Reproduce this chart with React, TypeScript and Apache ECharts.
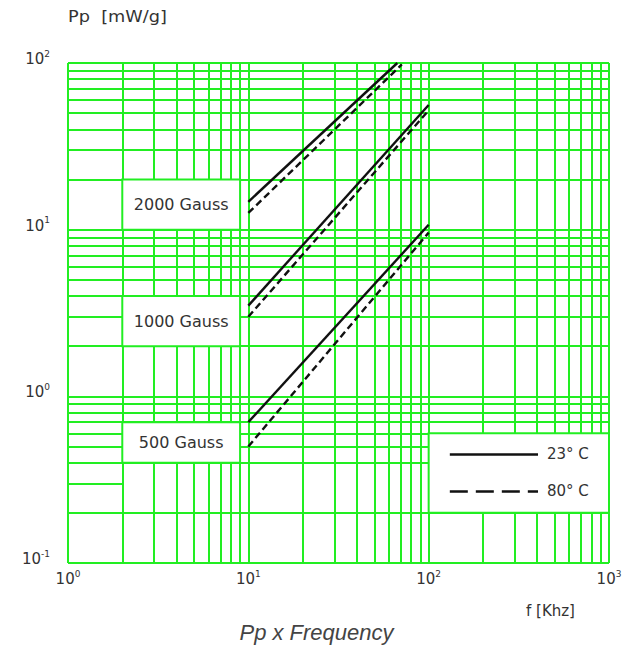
import { useEffect, useRef } from 'react';
import * as echarts from 'echarts';

// Axis decades (tick labels are powers of ten)
const xDecades = [1, 10, 100, 1000];
const yDecades = [0.1, 1, 10, 100];
const gridSteps = [1, 2, 3, 4, 5, 6, 7, 8, 9];

// Curves: frequency [kHz] -> Pp [mW/g]
const freq2000_23 = [10, 67];
const pp2000_23 = [14.7, 100];
const freq2000_80 = [10, 71];
const pp2000_80 = [12.6, 98];

const freq1000_23 = [10, 100];
const pp1000_23 = [3.5, 56];
const freq1000_80 = [10, 100];
const pp1000_80 = [3.0, 52];

const freq500_23 = [10, 100];
const pp500_23 = [0.7, 10.7];
const freq500_80 = [10, 100];
const pp500_80 = [0.5, 9.6];

const gaussLabels = ['2000 Gauss', '1000 Gauss', '500 Gauss'];
const legendLabels = ['23° C', '80° C'];

const GREEN = '#22ee22';
const TXT = '#333';
const FONT = 'DejaVu Sans';

function gridValues(decades: number[]) {
  const out: number[] = [];
  for (let i = 0; i < decades.length - 1; i++) {
    for (const s of gridSteps) out.push(+(decades[i] * s).toPrecision(6));
  }
  out.push(decades[decades.length - 1]);
  return out;
}

function pairs(xs: number[], ys: number[]) {
  return xs.map((x, i) => [x, ys[i]]);
}

function expLabel(v: number) {
  const e = String(Math.round(Math.log10(v)));
  return `{a|10}{b|${e}}`;
}

export default function App() {
  const ref = useRef<HTMLDivElement>(null);
  useEffect(() => {
    document.body.style.margin = '0';
    if (!ref.current) return;
    const chart = echarts.init(ref.current, undefined, { renderer: 'svg' });
    const xs = gridValues(xDecades);
    const ys = gridValues(yDecades).filter((v) => Math.abs(v - 0.3) > 1e-9);
    const gridLineStyle = { color: GREEN, width: 2, type: 'solid' as const };
    const richLabel = {
      a: { fontSize: 15, color: TXT, fontFamily: FONT, lineHeight: 20 },
      b: { fontSize: 9, color: TXT, fontFamily: FONT, verticalAlign: 'top' as const, lineHeight: 20 },
    };
    const lineSeries = (name: string, data: number[][], dashed: boolean) => ({
      name,
      type: 'line',
      z: 5,
      data,
      symbol: 'none',
      silent: true,
      lineStyle: { color: '#111', width: 2.4, type: dashed ? [7, 4] : 'solid' },
    });
    const boxStyle = { color: '#fff', opacity: 1, borderColor: GREEN, borderWidth: 2 };
    chart.setOption({
      animation: false,
      grid: { left: 68, right: 24, top: 63, bottom: 91 },
      xAxis: {
        type: 'log',
        logBase: 10,
        min: 1,
        max: 1000,
        axisLine: { show: false },
        axisTick: { show: false },
        splitLine: { show: false },
        axisLabel: { margin: 6, formatter: expLabel, rich: richLabel },
      },
      yAxis: {
        type: 'log',
        logBase: 10,
        min: 0.1,
        max: 100,
        axisLine: { show: false },
        axisTick: { show: false },
        splitLine: { show: false },
        axisLabel: { margin: 18, padding: [0, 0, 8, 0], formatter: expLabel, rich: richLabel },
      },
      graphic: [
        { type: 'text', left: 68, top: 9, scaleX: 1.18, style: { text: 'Pp  [mW/g]', fontSize: 15, fontFamily: FONT, fill: TXT } },
        { type: 'text', left: 526, top: 603, style: { text: 'f [Khz]', fontSize: 15, fontFamily: FONT, fill: TXT } },
        {
          type: 'text',
          left: 'center',
          top: 621,
          style: { text: 'Pp x Frequency', fontSize: 22, fontStyle: 'italic', fontFamily: 'Liberation Sans', fill: '#444' },
        },
      ],
      series: [
        {
          name: 'grid',
          type: 'line',
          z: 1,
          data: [],
          silent: true,
          markLine: {
            z: 1,
            silent: true,
            symbol: ['none', 'none'],
            label: { show: false },
            lineStyle: gridLineStyle,
            data: [
              ...xs.map((v) => ({ xAxis: v })),
              ...ys.map((v) => ({ yAxis: v })),
              [{ coord: [1, 0.3] }, { coord: [2, 0.3] }],
            ],
          },
        },
        {
          name: 'boxes',
          type: 'line',
          z: 3,
          data: [],
          silent: true,
          markArea: {
            z: 3,
            silent: true,
            itemStyle: boxStyle,
            label: { show: true, position: 'inside', color: TXT, fontSize: 16, fontFamily: FONT },
            data: [
              [{ name: gaussLabels[0], coord: [2, 10] }, { coord: [9, 20] }],
              [{ name: gaussLabels[1], coord: [2, 2] }, { coord: [9, 4] }],
              [{ name: gaussLabels[2], coord: [2, 0.4] }, { coord: [9, 0.7] }],
              [{ name: '', coord: [100, 0.2] }, { coord: [1000, 0.6] }],
            ],
          },
        },
        {
          name: 'legend',
          type: 'line',
          z: 6,
          data: [],
          silent: true,
          markLine: {
            z: 6,
            silent: true,
            symbol: ['none', 'none'],
            label: { show: true, position: 'end', distance: 9, color: TXT, fontSize: 15, fontFamily: FONT },
            data: [
              [
                { coord: [131, 0.451], lineStyle: { color: '#111', width: 2.5, type: 'solid' }, label: { formatter: legendLabels[0] } },
                { coord: [404, 0.451] },
              ],
              [
                { coord: [131, 0.27], lineStyle: { color: '#111', width: 2.5, type: [18, 8] }, label: { formatter: legendLabels[1] } },
                { coord: [404, 0.27] },
              ],
            ],
          },
        },
        lineSeries('2000 Gauss 23°C', pairs(freq2000_23, pp2000_23), false),
        lineSeries('2000 Gauss 80°C', pairs(freq2000_80, pp2000_80), true),
        lineSeries('1000 Gauss 23°C', pairs(freq1000_23, pp1000_23), false),
        lineSeries('1000 Gauss 80°C', pairs(freq1000_80, pp1000_80), true),
        lineSeries('500 Gauss 23°C', pairs(freq500_23, pp500_23), false),
        lineSeries('500 Gauss 80°C', pairs(freq500_80, pp500_80), true),
      ],
    });
    return () => chart.dispose();
  }, []);
  return <div ref={ref} style={{ width: 633, height: 654 }} />;
}
